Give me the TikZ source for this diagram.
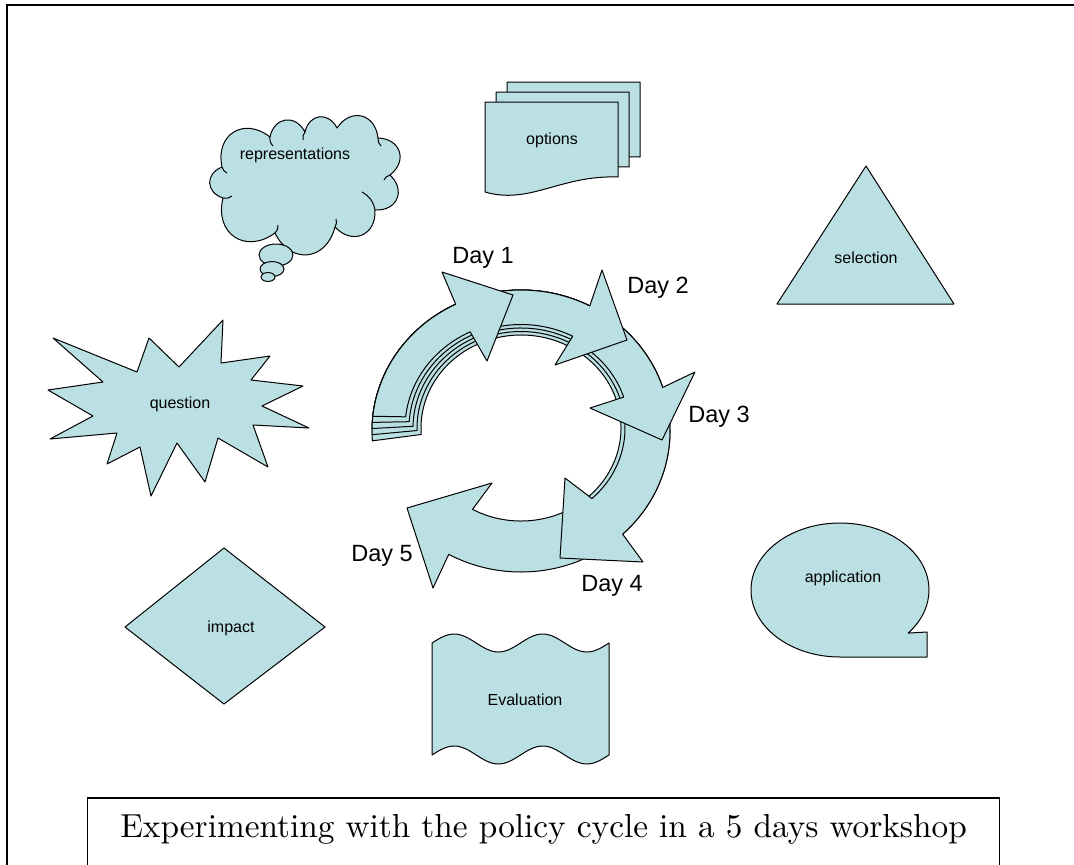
\documentclass[tikz,border=0pt]{standalone}
\usepackage{fontspec}
\newfontfamily\arial{Liberation Sans}
\usetikzlibrary{calc, math}
\definecolor{myfill}{RGB}{187,224,227}

\begin{document}
\begin{tikzpicture}[x=1pt, y=-1pt,
  blob/.style={fill=myfill, draw=black, line width=1pt, line join=round},
  puff/.style={bend left=70, looseness=1.5},
  lbl/.style={font=\arial\fontsize{16}{19}\selectfont},
  daylbl/.style={font=\arial\fontsize{23.5}{28}\selectfont}]
\tikzmath{
\orx=149;
\ory=141;
}
\useasboundingbox (0,0) rectangle (1074,865);
\clip (0,0) rectangle (1074,865);

% frame and caption
\draw[line width=2pt] (7,900) -- (7,5.3) -- (1100,5.3);
\draw[line width=1.6pt] (87.5,900) -- (87.5,798) -- (999.5,798) -- (999.5,900);
\node[anchor=base] (caption) at (543.5,837) {\scalebox{3.33}{Experimenting with the policy cycle in a 5 days workshop}};

% the cycle, longest arrow first
\coordinate (oc) at (521,431);
\coordinate (ic) at (521,428);
\foreach \s/\b/\rx/\ry/\ax/\ay/\tx/\ty/\bx/\by in {
  176/479/100/93/433/588/407/508/492/483,
  178.5/407/104/96.5/643/562/560/558/565/478,
  181/342/108/100/695/372/662/440/590/408,
  183.5/297.5/112/103.5/602/270/627/340/555/365,
  186/244/116/107/442/272/513/295/487/361}
{
\filldraw[blob] ($(oc)+({\s}:{\orx} and {\ory})$) arc[start angle=\s, end angle=\b, x radius=\orx, y radius=\ory]
  -- (\ax,\ay) -- (\tx,\ty) -- (\bx,\by)
  -- ($(ic)+({\b}:{\rx} and {\ry})$) arc[start angle=\b, end angle=\s, x radius=\rx, y radius=\ry] -- cycle;
}
\node[daylbl] (day1) at (483,258) {Day 1};
\node[daylbl] (day2) at (658,288) {Day 2};
\node[daylbl] (day3) at (719,417) {Day 3};
\node[daylbl] (day4) at (612,586) {Day 4};
\node[daylbl] (day5) at (382,556) {Day 5};

% thought cloud
\filldraw[blob] (223,198) to[puff] (222,167) to[puff] (270,137) to[puff] (305,132) to[puff] (337,128)
  to[puff] (378,138) to[puff] (390,175) to[puff] (375,210) to[puff] (335,227) to[puff] (275,233)
  to[puff] cycle;
\foreach \ax/\ay/\bx/\by in {223/198/232/196, 222/167/227/173, 270/137/273/146, 305/132/303/140,
  378/138/381/146, 390/175/384/180, 375/210/362/192, 335/227/336/219, 275/233/278/225}
  \draw[line width=1pt] (\ax,\ay) to[bend right=25] (\bx,\by);
\filldraw[blob] (276,255) ellipse[x radius=17, y radius=11];
\filldraw[blob] (272,269) ellipse[x radius=12, y radius=7.5];
\filldraw[blob] (268,277) ellipse[x radius=7, y radius=4.5];
\node[lbl] (repr) at (295,155) {representations};

% stacked pages
\foreach \dx/\dy in {22/-20, 11/-10, 0/0}
  \filldraw[blob, shift={(\dx,\dy)}] (485,102) -- (618,102) -- (618,177)
    .. controls (560,175) and (530,205) .. (485,192) -- cycle;
\node[lbl] (opts) at (552,140) {options};

% triangle
\filldraw[blob] (866,166) -- (954,304) -- (777,304) -- cycle;
\node[lbl] (sel) at (866,258) {selection};

% star
\filldraw[blob] (53,338) -- (137,372) -- (149,338) -- (179,367) -- (223,320) -- (221,363)
  -- (270,356) -- (251,380) -- (303,386) -- (262,406) -- (309,428) -- (253,425)
  -- (268,467) -- (218,438) -- (205,482) -- (177,443) -- (151,496) -- (140,447)
  -- (107,464) -- (117,433) -- (50,439) -- (93,416) -- (48,390) -- (103,382) -- cycle;
\node[lbl] (quest) at (180,404) {question};

% diamond
\filldraw[blob] (224,548) -- (325,627) -- (224,704) -- (125,627) -- cycle;
\node[lbl] (imp) at (231,628) {impact};

% callout
\filldraw[blob] (840,657) arc[start angle=90, end angle=400, x radius=89, y radius=67]
  -- (927,632) -- (927,657) -- cycle;
\node[lbl] (appl) at (843,578) {application};

% double wave, two periods across
\filldraw[blob] plot[domain=0:177, samples=60] ({432+\x},{643-9*sin(4.068*\x)})
  -- plot[domain=177:0, samples=60] ({432+\x},{755-9*sin(4.068*\x)}) -- cycle;
\node[lbl] (evalu) at (525,700) {Evaluation};
\end{tikzpicture}
\end{document}
